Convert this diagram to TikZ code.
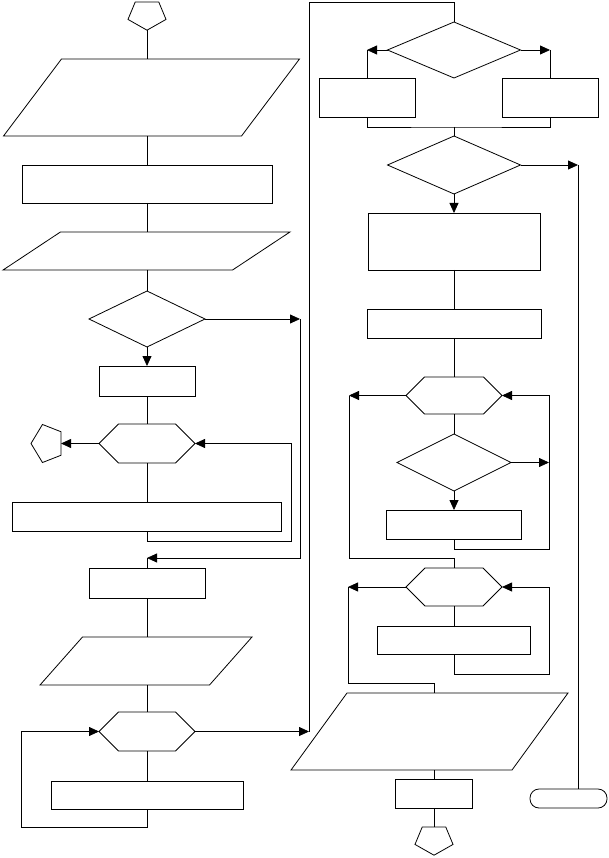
\documentclass[tikz,border=0pt]{standalone}
\usetikzlibrary{shapes,arrows.meta}
\tikzset{every node/.style={inner sep=1pt,outer sep=0pt}}
\newcommand{\procbox}[5]{\node[draw,rectangle,minimum width=#4,minimum height=#5] (#1) at (#2,#3) {};}
\newcommand{\decide}[5]{\node[draw,diamond,minimum width=#4,minimum height=#5] (#1) at (#2,#3) {};}
\newcommand{\inout}[6]{\node[draw,rectangle,xslant=#6,minimum width=#4,minimum height=#5] (#1) at (#2,#3) {};}
\newcommand{\prep}[5]{\node[draw,signal,signal to=west and east,signal pointer angle=90,minimum width=#4,minimum height=#5] (#1) at (#2,#3) {};}
\newcommand{\offpage}[4]{\node[draw,regular polygon,regular polygon sides=5,minimum size=40,#4] (#1) at (#2,#3) {};}
\newcommand{\flow}[2]{\draw (#1) -- (#2);}
\newcommand{\flowarrow}[2]{\draw[->,>={Triangle[length=10pt,width=9pt]}] (#1) -- (#2);}

\begin{document}
\begin{tikzpicture}[x=1pt,y=-1pt,line width=0.8pt,>={Triangle[length=10pt,width=9pt]}]
    \useasboundingbox (0,0) rectangle (609,858);
    % left column
    \offpage{pentT}{147}{14.6}{shape border rotate=180,yscale=0.78}
    \inout{par1}{151.5}{97.5}{238}{77}{0.753}
    \procbox{box1}{147}{184}{250}{38}
    \inout{par2}{146.5}{251}{229.5}{38}{1.51}
    \decide{dia1}{147}{319}{116}{56}
    \procbox{box2}{147}{381}{96}{30}
    \prep{hex1}{147}{443.5}{96}{39}
    \offpage{pentL}{47.6}{443.5}{shape border rotate=90,xscale=0.83}
    \procbox{box3}{147}{516.5}{269}{29}
    \procbox{box4}{147}{583}{116}{30}
    \inout{par3}{146}{661}{169.5}{48}{0.885}
    \prep{hex2}{147}{731.5}{96}{39}
    \procbox{box5}{147}{795}{192}{28}
    \coordinate (l1) at (291,541);  \coordinate (l2) at (21,827);
    \coordinate (jA) at (300,319);  \coordinate (jB) at (147,558);
    \coordinate (jC) at (309,731.5);\coordinate (jD) at (309,2);
    \flow{pentT.south}{pentT.south |- par1.north}
    \flow{box1.north |- par1.south}{box1.north}
    \flow{box1.south}{box1.south |- par2.north}
    \flow{dia1.north |- par2.south}{dia1.north}
    \flowarrow{dia1.south}{box2.north}\flow{box2.south}{hex1.north}
    \flowarrow{hex1.west}{pentL.east}\flow{hex1.south}{box3.north}
    \draw[->] (box3.south) |- (l1) |- (hex1.east);
    \flowarrow{dia1.east}{jA}
    \draw[->] (jA) |- (jB);
    \flow{jB}{box4.north}
    \flow{box4.south}{box4.south |- par3.north}
    \flow{hex2.north |- par3.south}{hex2.north}
    \flow{hex2.south}{box5.north}
    \draw[->] (box5.south) |- (l2) |- (hex2.west);
    \flowarrow{hex2.east}{jC}
    % right column
    \decide{dia2}{454}{50}{133}{56}
    \procbox{boxL}{367}{97.5}{96}{39}
    \procbox{boxR}{550}{97.5}{96}{39}
    \decide{dia3}{454}{165}{133}{58}
    \procbox{box6}{454}{241.5}{172}{57}
    \procbox{box7}{454}{323.5}{174}{29}
    \prep{hex3}{454}{395.5}{96}{37}
    \decide{dia4}{454}{462.5}{114}{57}
    \procbox{box8}{454}{524.5}{135}{29}
    \prep{hex4}{454}{587}{96}{38}
    \procbox{box9}{454}{640}{153}{28}
    \inout{par4}{429.5}{731.5}{221}{77}{0.727}
    \procbox{box10}{434}{793.5}{77}{29}
    \offpage{pentB}{434}{839.6}{shape border rotate=180,yscale=0.78}
    \node[draw,rectangle,rounded corners=9pt,minimum width=77,minimum height=19] (term) at (568.5,798.5) {};
    \coordinate (jm) at (454,127);  \coordinate (jE) at (578,165);
    \coordinate (jF) at (349,395.5);\coordinate (jG) at (454,558);
    \coordinate (jH) at (348,587);  \coordinate (jI) at (434,683);
    \coordinate (l3) at (549,549);  \coordinate (l4) at (549,674);
    \draw (jC) -- (jD) -| (dia2.north);
    \flowarrow{dia2.west}{dia2.west -| boxL.north}\flow{dia2.west -| boxL.north}{boxL.north}
    \flowarrow{dia2.east}{dia2.east -| boxR.north}\flow{dia2.east -| boxR.north}{boxR.north}
    \draw (boxL.south) |- (jm) -| (boxR.south);
    \flow{jm}{dia3.north}
    \flowarrow{dia3.east}{jE}\flow{jE}{jE |- term.north}
    \flowarrow{dia3.south}{box6.north}
    \flow{box6.south}{box7.north}\flow{box7.south}{hex3.north}
    \flow{hex3.south}{dia4.north}\flowarrow{dia4.south}{box8.north}
    \flowarrow{hex3.west}{jF}
    \draw (jF) |- (jG);
    \flow{jG}{hex4.north}
    \draw[->] (box8.south) |- (l3) |- (hex3.east);
    \flowarrow{dia4.east}{dia4.east -| l3}
    \flow{hex4.south}{box9.north}
    \draw[->] (box9.south) |- (l4) |- (hex4.east);
    \flowarrow{hex4.west}{jH}
    \draw (jH) |- (jI) -- (jI |- par4.north);
    \flow{box10.north |- par4.south}{box10.north}
    \flow{box10.south}{pentB.north}
\end{tikzpicture}
\end{document}
